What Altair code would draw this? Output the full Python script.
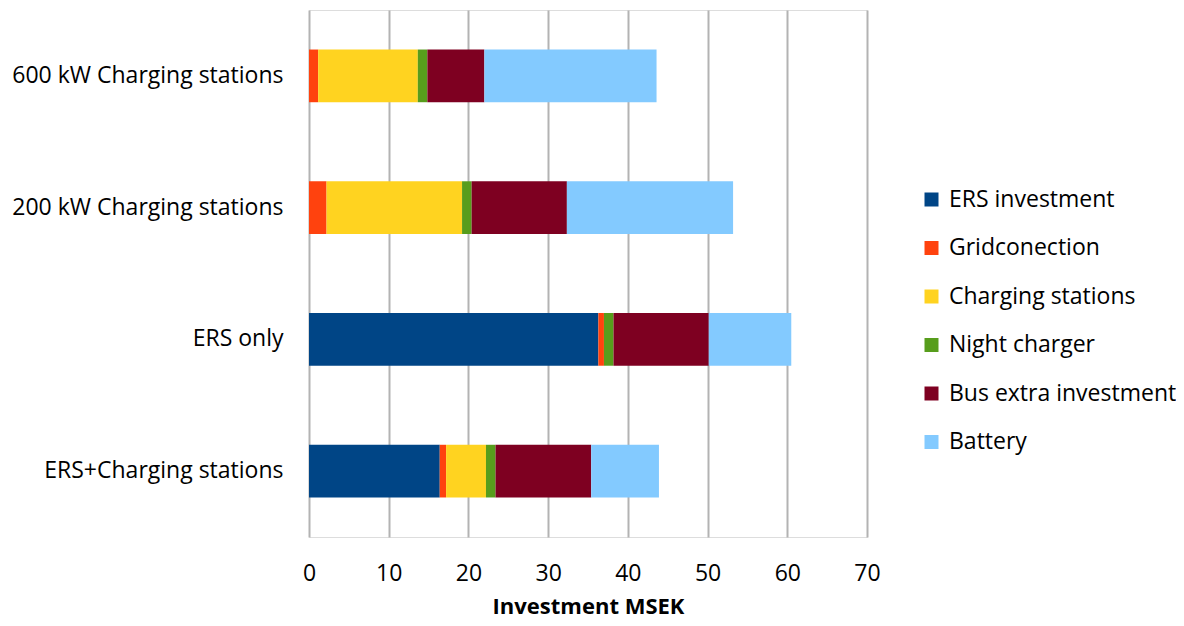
import altair as alt
import pandas as pd

categories = ["600 kW Charging stations", "200 kW Charging stations", "ERS only", "ERS+Charging stations"]
series = ["ERS investment", "Gridconection", "Charging stations", "Night charger", "Bus extra investment", "Battery"]
colors = ["#004586", "#ff420e", "#ffd320", "#579d1c", "#7e0021", "#83caff"]

ers_investment = [0.0, 0.0, 36.3, 16.4]
gridconection = [1.15, 2.2, 0.7, 0.8]
charging_stations = [12.5, 17.0, 0.0, 5.0]
night_charger = [1.2, 1.2, 1.2, 1.2]
bus_extra = [7.15, 11.95, 11.95, 12.0]
battery = [21.6, 20.85, 10.35, 8.5]

values = [ers_investment, gridconection, charging_stations, night_charger, bus_extra, battery]
rows = []
for si, (s, vals) in enumerate(zip(series, values)):
    for c, v in zip(categories, vals):
        rows.append({"category": c, "series": s, "order": si, "value": v})
df = pd.DataFrame(rows)

FONT = "Open Sans"
FS = 23

chart = alt.Chart(df).mark_bar().encode(
    y=alt.Y("category:N", sort=categories,
            scale=alt.Scale(paddingInner=0.6, paddingOuter=0.3),
            axis=alt.Axis(title=None, domain=False, ticks=False, labelPadding=26,
                          labelFontSize=FS, labelFont=FONT, labelColor="#000000", labelLimit=400)),
    x=alt.X("value:Q", stack="zero",
            scale=alt.Scale(domain=[0, 70], nice=False),
            axis=alt.Axis(title="Investment MSEK", values=list(range(0, 71, 10)), domain=False, ticks=False,
                          labelPadding=25, labelFontSize=FS, labelFont=FONT, labelColor="#000000",
                          titleFontSize=22, titleFont=FONT, titleFontWeight="bold", titleColor="#000000",
                          titlePadding=11, gridColor="#b3b3b3", gridWidth=2, labelFlush=False)),
    color=alt.Color("series:N", sort=series,
                    scale=alt.Scale(domain=series, range=colors),
                    legend=alt.Legend(title=None, orient="none", legendX=611, legendY=178,
                                      symbolType="square", symbolSize=196, symbolStrokeWidth=0,
                                      labelFontSize=FS, labelFont=FONT, labelColor="#000000",
                                      rowPadding=24.5, labelOffset=6, padding=0, labelLimit=400)),
    order=alt.Order("order:Q"),
).properties(
    width=558, height=527,
    autosize=alt.AutoSizeParams(type="none"),
    padding={"left": 301, "top": 2, "right": 309, "bottom": 81},
).configure_view(
    stroke="#b3b3b3", strokeWidth=2
).configure(background="#ffffff")

chart.save("out.html", embed_options={"renderer": "svg", "actions": False})
